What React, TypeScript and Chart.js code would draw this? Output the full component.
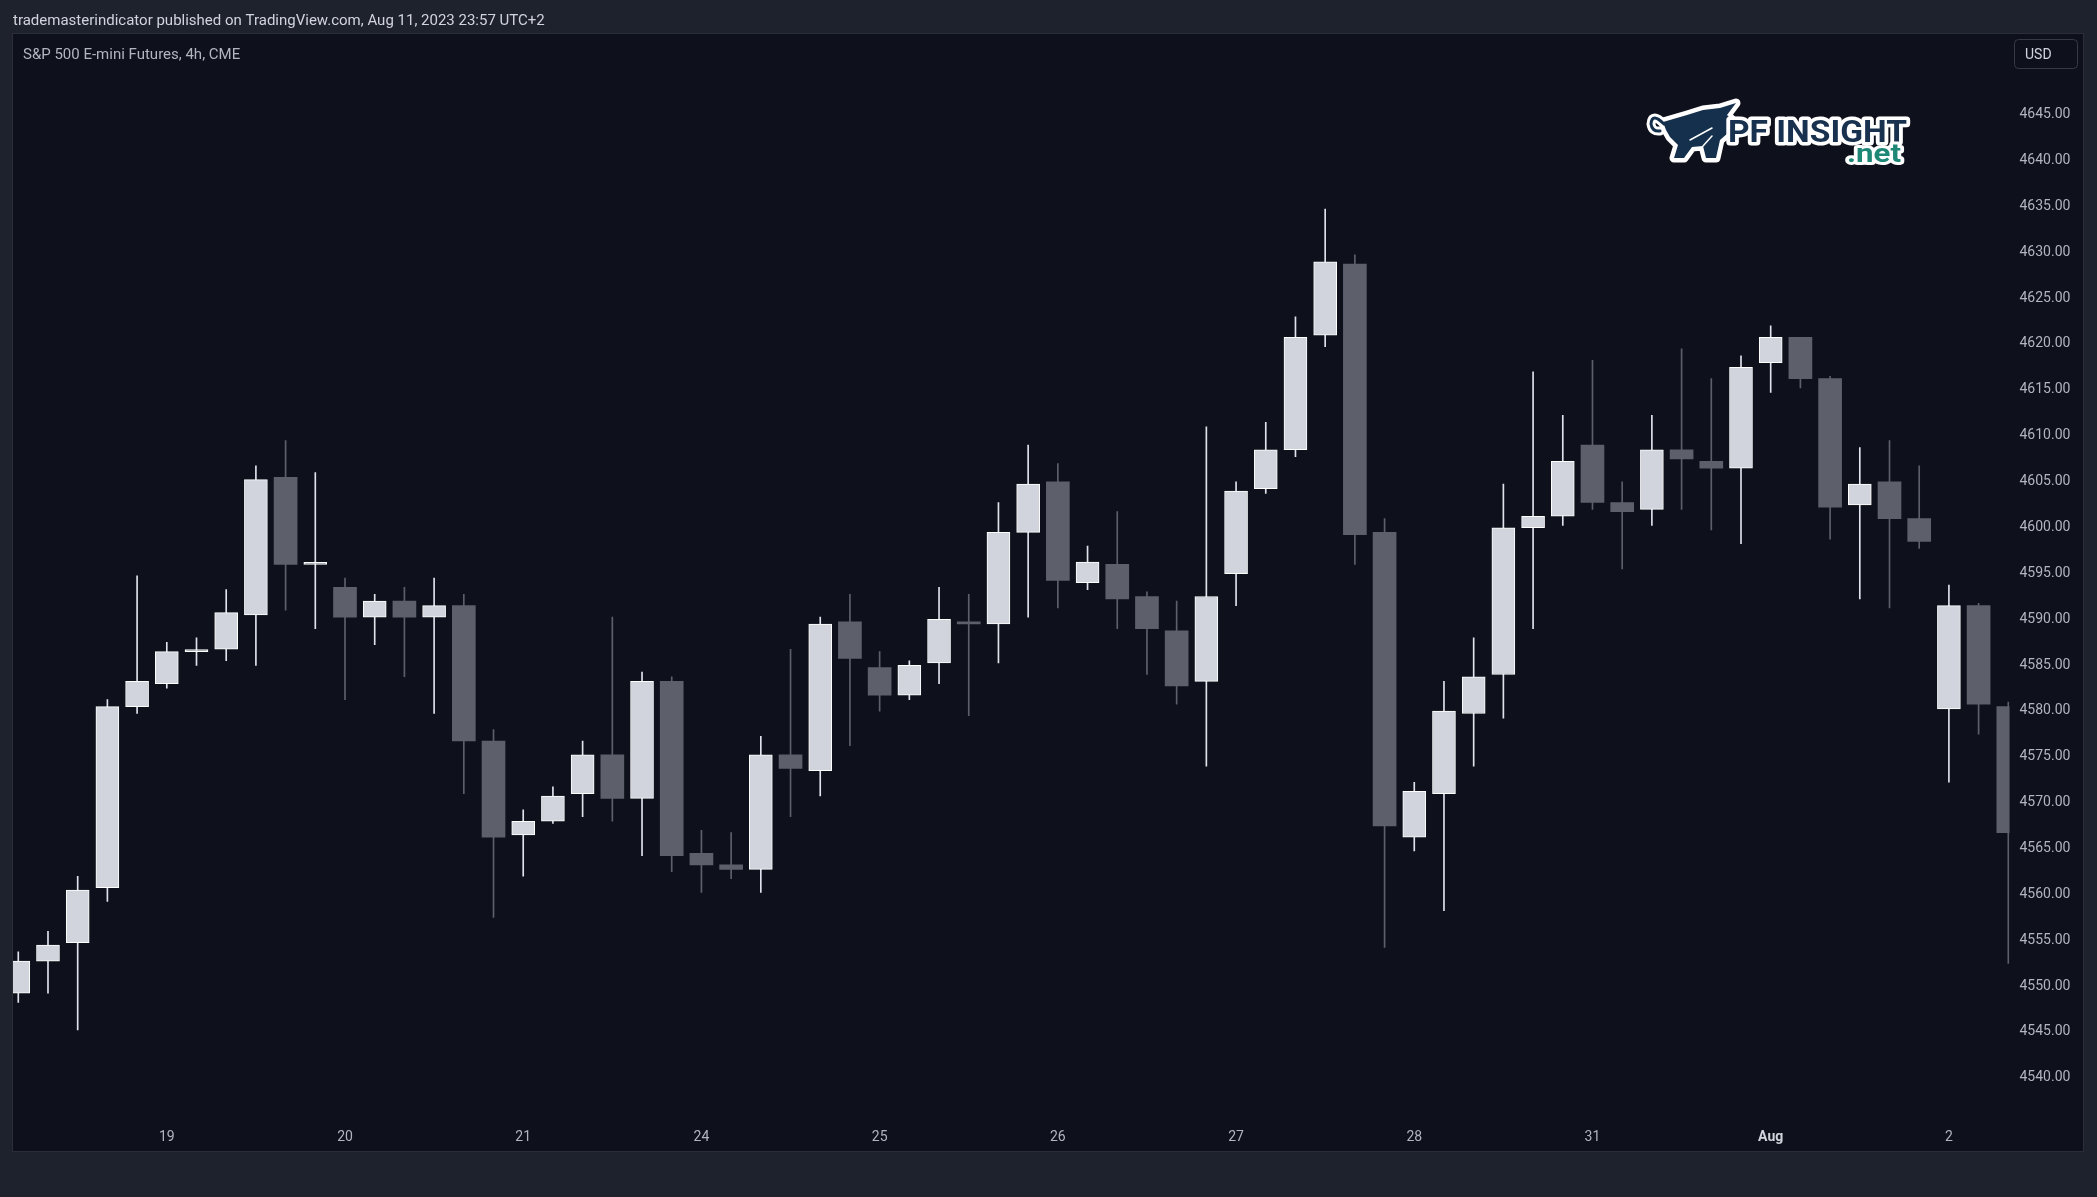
import React, { useEffect, useRef } from "react";
import { Chart, registerables } from "chart.js";

Chart.register(...registerables);

// ---------- data ----------
const opens = [
  4549, 4552.5, 4554.5, 4560.5, 4580.25, 4582.75, 4586.25, 4586.5, 4590.25, 4605.25,
  4595.75, 4593.25, 4590, 4591.75, 4590, 4591.25, 4576.5, 4566.25, 4567.75, 4570.75,
  4575, 4570.25, 4583, 4564.25, 4563, 4562.5, 4575, 4573.25, 4589.5, 4584.5,
  4581.5, 4585, 4589.5, 4589.25, 4599.25, 4604.75, 4593.75, 4595.75, 4592.25, 4588.5,
  4583, 4594.75, 4604, 4608.25, 4620.75, 4628.5, 4599.25, 4566, 4570.75, 4579.5,
  4583.75, 4599.75, 4601, 4608.75, 4602.5, 4601.75, 4608.25, 4607, 4606.25, 4617.75,
  4620.5, 4616, 4602.25, 4604.75, 4600.75, 4580, 4591.25, 4580.25,
];
const highs = [
  4553.5, 4555.75, 4561.75, 4581, 4594.5, 4587.25, 4587.75, 4593, 4606.5, 4609.25,
  4605.75, 4594.25, 4592.5, 4593.25, 4594.25, 4592.5, 4577.75, 4569, 4571.5, 4576.5,
  4590, 4584, 4583.5, 4566.75, 4566.5, 4577, 4586.5, 4590, 4592.5, 4586.25,
  4585.25, 4593.25, 4592.5, 4602.5, 4608.75, 4606.75, 4597.75, 4601.5, 4592.75, 4591.75,
  4610.75, 4604.75, 4611.25, 4622.75, 4634.5, 4629.5, 4600.75, 4572, 4583, 4587.75,
  4604.5, 4616.75, 4612, 4618, 4604.75, 4612, 4619.25, 4616, 4618.5, 4621.75,
  4620.5, 4616.25, 4608.5, 4609.25, 4606.5, 4593.5, 4591.5, 4580.75,
];
const lows = [
  4548, 4549, 4545, 4559, 4579.5, 4582.25, 4584.75, 4585.25, 4584.75, 4590.75,
  4588.75, 4581, 4587, 4583.5, 4579.5, 4570.75, 4557.25, 4561.75, 4567.5, 4568.25,
  4567.75, 4564, 4562.25, 4560, 4561.5, 4560, 4568.25, 4570.5, 4576, 4579.75,
  4581, 4582.75, 4579.25, 4585, 4590, 4591, 4593, 4588.75, 4583.75, 4580.5,
  4573.75, 4591.25, 4603.5, 4607.5, 4619.5, 4595.75, 4554, 4564.5, 4558, 4573.75,
  4579, 4588.75, 4600, 4601.75, 4595.25, 4600, 4601.75, 4599.5, 4598, 4614.5,
  4615, 4598.5, 4592, 4591, 4597.5, 4572, 4577.25, 4552.25,
];
const closes = [
  4552.5, 4554.25, 4560.25, 4580.25, 4583, 4586.25, 4586.25, 4590.5, 4605, 4595.75,
  4595.75, 4590, 4591.75, 4590, 4591.25, 4576.5, 4566, 4567.75, 4570.5, 4575,
  4570.25, 4583, 4564, 4563, 4562.5, 4575, 4573.5, 4589.25, 4585.5, 4581.5,
  4584.75, 4589.75, 4589.25, 4599.25, 4604.5, 4594, 4596, 4592, 4588.75, 4582.5,
  4592.25, 4603.75, 4608.25, 4620.5, 4628.75, 4599, 4567.25, 4571, 4579.75, 4583.5,
  4599.75, 4601, 4607, 4602.5, 4601.5, 4608.25, 4607.25, 4606.25, 4617.25, 4620.5,
  4616, 4602, 4604.5, 4600.75, 4598.25, 4591.25, 4580.5, 4566.5,
];
const dayTickIndex = [5, 11, 17, 23, 29, 35, 41, 47, 53, 59, 65];
const dayTickLabels = ["19", "20", "21", "24", "25", "26", "27", "28", "31", "Aug", "2"];
const priceTicks = [
  4540, 4545, 4550, 4555, 4560, 4565, 4570, 4575, 4580, 4585, 4590, 4595,
  4600, 4605, 4610, 4615, 4620, 4625, 4630, 4635, 4640, 4645,
];
const headerText = "trademasterindicator published on TradingView.com, Aug 11, 2023 23:57 UTC+2";
const symbolTitle = "S&P 500 E-mini Futures, 4h, CME";
const currencyLabel = "USD";
const logoMain = "PF INSIGHT";
const logoSub = ".net";

// ---------- style ----------
const W = 2097;
const H = 1197;
const OUTER_BG = "#1e222d";
const PANE_BG = "#0e111b";
const PANE_BORDER = "#2a2e39";
const UP_BODY = "#d1d4dc";
const UP_BORDER = "#ffffff";
const UP_WICK = "#e0e3eb";
const DOWN = "#5d606b";
const AXIS_TEXT = "#b2b5be";
const FONT = "Roboto";

const X_MIN = -0.178;
const X_MAX = 67.04;
const Y_MIN = 4534.74;
const Y_MAX = 4653.58;

function drawLogo(ctx: CanvasRenderingContext2D) {
  ctx.save();
  ctx.lineJoin = "round";
  ctx.lineCap = "round";
  // bull
  const bull = new Path2D();
  bull.moveTo(1663, 122);
  bull.lineTo(1687, 115);
  bull.lineTo(1703, 110);
  bull.lineTo(1720, 108);
  bull.lineTo(1736, 103);
  bull.lineTo(1727, 115);
  bull.lineTo(1732, 120);
  bull.lineTo(1728, 133);
  bull.lineTo(1720, 140);
  bull.lineTo(1716, 158);
  bull.lineTo(1706, 158);
  bull.lineTo(1703, 146);
  bull.lineTo(1692, 147);
  bull.lineTo(1684, 158);
  bull.lineTo(1674, 158);
  bull.lineTo(1678, 145);
  bull.lineTo(1670, 137);
  bull.lineTo(1666, 130);
  bull.closePath();
  const tail = new Path2D();
  tail.moveTo(1664, 124);
  tail.quadraticCurveTo(1652, 112, 1651, 124);
  tail.quadraticCurveTo(1652, 132, 1660, 131);
  ctx.strokeStyle = "#ffffff";
  ctx.lineWidth = 9;
  ctx.stroke(bull);
  ctx.stroke(tail);
  ctx.fillStyle = "#15304d";
  ctx.fill(bull);
  ctx.strokeStyle = "#15304d";
  ctx.lineWidth = 3;
  ctx.stroke(tail);
  ctx.strokeStyle = "#ffffff";
  ctx.lineWidth = 1.5;
  ctx.beginPath();
  ctx.moveTo(1690, 140);
  ctx.lineTo(1712, 128);
  ctx.moveTo(1703, 146);
  ctx.lineTo(1712, 136);
  ctx.stroke();

  // main text
  ctx.font = `bold 31px ${FONT}`;
  ctx.textBaseline = "alphabetic";
  ctx.textAlign = "left";
  let m = ctx.measureText(logoMain).width;
  ctx.save();
  ctx.translate(1728, 142);
  ctx.scale(179 / m, 1);
  ctx.strokeStyle = "#ffffff";
  ctx.lineWidth = 7;
  ctx.strokeText(logoMain, 0, 0);
  ctx.fillStyle = "#17314f";
  ctx.fillText(logoMain, 0, 0);
  ctx.restore();

  ctx.font = `bold 25px ${FONT}`;
  m = ctx.measureText(logoSub).width;
  ctx.save();
  ctx.translate(1847, 162);
  ctx.scale(54 / m, 1);
  ctx.strokeStyle = "#ffffff";
  ctx.lineWidth = 6;
  ctx.strokeText(logoSub, 0, 0);
  ctx.fillStyle = "#1f8776";
  ctx.fillText(logoSub, 0, 0);
  ctx.restore();
  ctx.restore();
}

const framePlugin = {
  id: "tvFrame",
  beforeDraw(chart: any) {
    const ctx: CanvasRenderingContext2D = chart.ctx;
    ctx.save();
    ctx.fillStyle = OUTER_BG;
    ctx.fillRect(0, 0, W, H);
    ctx.fillStyle = PANE_BG;
    ctx.fillRect(13, 34, 2083 - 13, 1151 - 34);
    ctx.strokeStyle = PANE_BORDER;
    ctx.lineWidth = 1;
    ctx.strokeRect(12.5, 33.5, 2083.5 - 12.5, 1151.5 - 33.5);
    ctx.restore();
  },
  afterDraw(chart: any) {
    const ctx: CanvasRenderingContext2D = chart.ctx;
    ctx.save();
    ctx.textBaseline = "middle";
    ctx.textAlign = "left";
    ctx.fillStyle = "#d1d4dc";
    ctx.font = `15px ${FONT}`;
    ctx.fillText(headerText, 13, 21.5);
    ctx.fillStyle = AXIS_TEXT;
    ctx.font = `15px ${FONT}`;
    ctx.fillText(symbolTitle, 23, 55);
    // currency box
    ctx.strokeStyle = "#363a45";
    ctx.lineWidth = 1;
    ctx.beginPath();
    (ctx as any).roundRect(2014.5, 39.5, 63, 29, 4);
    ctx.stroke();
    ctx.fillStyle = "#d1d4dc";
    ctx.font = `14px ${FONT}`;
    ctx.fillText(currencyLabel, 2025, 55);
    ctx.restore();
    drawLogo(ctx);
  },
};

export default function App() {
  const ref = useRef<HTMLCanvasElement | null>(null);
  useEffect(() => {
    if (!ref.current) return;
    const isUp = closes.map((c, i) => c >= opens[i]);
    const chart = new Chart(ref.current, {
      type: "bar",
      data: {
        datasets: [
          {
            label: "body",
            data: opens.map((o, i) => ({ x: i, y: [o, closes[i]] })) as any,
            backgroundColor: isUp.map((u) => (u ? UP_BODY : DOWN)),
            borderColor: isUp.map((u) => (u ? UP_BORDER : DOWN)),
            borderWidth: isUp.map((u) => (u ? 1 : 0)),
            borderSkipped: false,
            barThickness: 23,
            minBarLength: 2,
            grouped: false,
            order: 0,
          } as any,
          {
            label: "wick",
            data: lows.map((l, i) => ({ x: i, y: [l, highs[i]] })) as any,
            backgroundColor: isUp.map((u) => (u ? UP_WICK : DOWN)),
            borderWidth: 0,
            barThickness: 1,
            grouped: false,
            order: 1,
          } as any,
        ],
      },
      options: {
        responsive: false,
        maintainAspectRatio: false,
        animation: false,
        devicePixelRatio: 1,
        layout: { padding: { left: 13, top: 34, right: 0, bottom: 45 } },
        plugins: { legend: { display: false }, tooltip: { enabled: false } },
        scales: {
          x: {
            type: "linear",
            min: X_MIN,
            max: X_MAX,
            offset: false,
            grid: { display: false, drawTicks: false, offset: false },
            border: { display: false },
            afterBuildTicks: (s: any) => {
              s.ticks = dayTickIndex.map((v) => ({ value: v }));
            },
            afterFit: (s: any) => {
              s.height = 28;
            },
            ticks: {
              autoSkip: false,
              maxRotation: 0,
              padding: 5,
              callback: (v: any) => {
                const k = dayTickIndex.indexOf(Number(v));
                return k >= 0 ? dayTickLabels[k] : "";
              },
              color: (c: any) => (c.tick && c.tick.label === "Aug" ? "#d1d4dc" : AXIS_TEXT),
              font: (c: any) => ({
                family: FONT,
                size: 14,
                weight: c.tick && c.tick.label === "Aug" ? "bold" : "normal",
              }),
            },
          } as any,
          y: {
            type: "linear",
            position: "right",
            min: Y_MIN,
            max: Y_MAX,
            grid: { display: false, drawTicks: false },
            border: { display: false },
            afterBuildTicks: (s: any) => {
              s.ticks = priceTicks.map((v) => ({ value: v }));
            },
            afterFit: (s: any) => {
              s.width = W - 2009.5;
            },
            ticks: {
              padding: 10,
              labelOffset: 2,
              crossAlign: "near",
              color: AXIS_TEXT,
              font: { family: FONT, size: 14 },
              callback: (v: any) => Number(v).toFixed(2),
            },
          } as any,
        },
      } as any,
      plugins: [framePlugin],
    });
    return () => chart.destroy();
  }, []);

  return (
    <div
      style={{
        position: "fixed",
        left: 0,
        top: 0,
        width: W,
        height: H,
        background: OUTER_BG,
        overflow: "hidden",
      }}
    >
      <canvas ref={ref} width={W} height={H} style={{ display: "block", width: W, height: H }} />
    </div>
  );
}
